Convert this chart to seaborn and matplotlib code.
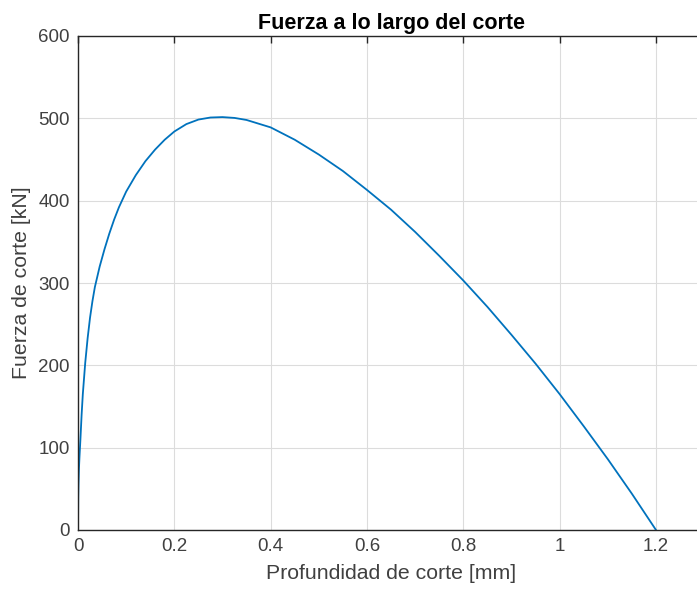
import numpy as np
import pandas as pd
import matplotlib
matplotlib.use("Agg")
import matplotlib.pyplot as plt
import seaborn as sns

# Data (depth [mm], force [kN])
profundidad = [0.0, 0.0005, 0.001, 0.002, 0.003, 0.005, 0.0075, 0.01, 0.015, 0.02,
               0.025, 0.03, 0.035, 0.045, 0.055, 0.065, 0.075, 0.085, 0.1, 0.12,
               0.14, 0.16, 0.18, 0.2, 0.225, 0.25, 0.275, 0.3, 0.325, 0.35,
               0.4, 0.45, 0.5, 0.55, 0.6, 0.65, 0.7, 0.75, 0.8, 0.85,
               0.9, 0.95, 1.0, 1.05, 1.1, 1.15, 1.2]
fuerza = [0.0, 40, 55, 75, 88, 110, 140, 165, 203, 233,
          258, 278, 295, 320, 341, 360, 377, 392, 411, 431,
          448, 462, 474, 484, 493, 498.5, 501, 501.5, 500.5, 498,
          489, 474, 456, 436, 413, 389, 362, 333, 303, 271,
          237, 202, 165, 126, 86, 44, 0.0]

xticks = [0, 0.2, 0.4, 0.6, 0.8, 1.0, 1.2]
xticklabels = ["0", "0.2", "0.4", "0.6", "0.8", "1", "1.2"]
yticks = [0, 100, 200, 300, 400, 500, 600]

df = pd.DataFrame({"x": profundidad, "y": fuerza})

sns.set_theme(style="white")
plt.rcParams["font.family"] = ["Liberation Sans", "DejaVu Sans"]

W, H = 697, 596
fig = plt.figure(figsize=(W / 100, H / 100), dpi=100)
left, top, bottom = 78, 36, 530
px_per_unit = (656 - 78) / 1.2
width_px = 1.3 * px_per_unit
ax = fig.add_axes([left / W, (H - bottom) / H, width_px / W, (bottom - top) / H])

sns.lineplot(data=df, x="x", y="y", ax=ax, color="#0072BD", linewidth=1.3,
             sort=False, estimator=None)

ax.set_xlim(0, 1.3)
ax.set_ylim(0, 600)
ax.set_xticks(xticks)
ax.set_xticklabels(xticklabels)
ax.set_yticks(yticks)
ax.grid(True, color="#dcdcdc", linewidth=0.8)
ax.set_axisbelow(True)
for s in ax.spines.values():
    s.set_color("#262626")
    s.set_linewidth(1.0)
    s.set_visible(True)
ax.tick_params(axis="both", direction="in", length=5, width=1.0,
               colors="#262626", labelsize=13.5, labelcolor="#404040",
               top=True, right=True, pad=6)
ax.set_xlabel("Profundidad de corte [mm]", fontsize=15.3, color="#404040", labelpad=6)
ax.set_ylabel("Fuerza de corte [kN]", fontsize=15.3, color="#404040", labelpad=5)
ax.set_title("Fuerza a lo largo del corte", fontsize=15.5, fontweight="bold",
             color="black", pad=5)

fig.savefig("out.png", dpi=100)
